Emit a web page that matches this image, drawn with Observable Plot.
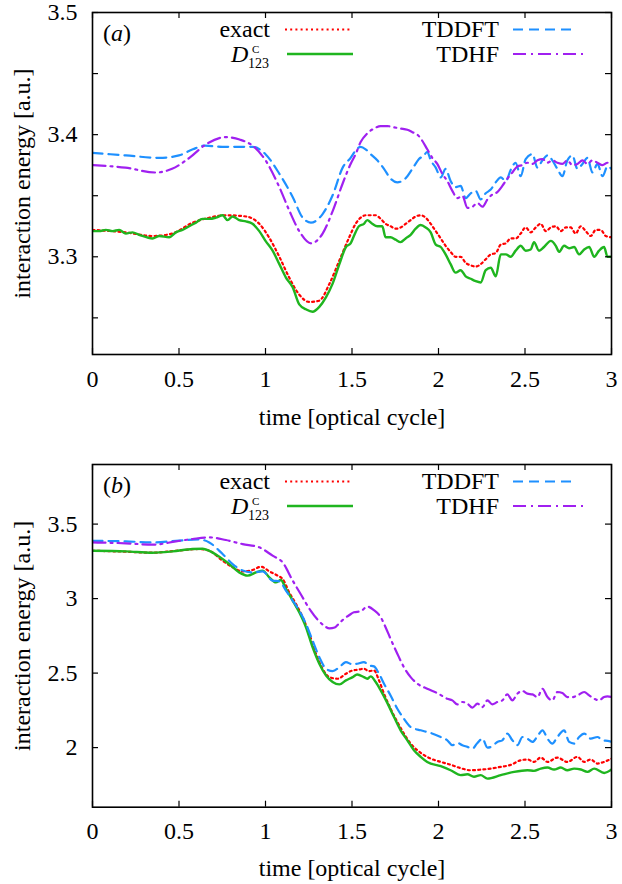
<!DOCTYPE html>
<html>
<head>
<meta charset="utf-8">
<script src="https://cdn.jsdelivr.net/npm/d3@7"></script>
<script src="https://cdn.jsdelivr.net/npm/@observablehq/plot@0.6"></script>
<style>
  body { margin: 0; background: #fff; width: 622px; }
  svg { display: block; }
</style>
</head>
<body>
<div id="chart"></div>
<script>
// ---------- shared ticks ----------
const xTicks = [0, 0.5, 1, 1.5, 2, 2.5, 3];
const aYTicks = [3.25, 3.3, 3.35, 3.4, 3.45, 3.5];
const aYLabels = [3.3, 3.4, 3.5];
const bYTicks = [2, 2.5, 3, 3.5];
const bYLabels = [2, 2.5, 3, 3.5];
const seriesNames = ["exact", "D123", "TDDFT", "TDHF"];

// ---------- panel (a) ----------
const aExactT = [0,0.19,0.35,0.46,0.58,0.675,0.77,0.887,0.964,1.02,1.08,1.137,1.195,1.253,1.31,1.37,1.427,1.484,1.521,1.55,1.579,1.608,1.637,1.666,1.694,1.723,1.752,1.781,1.81,1.839,1.868,1.897,1.926,1.955,1.984,2.013,2.041,2.07,2.099,2.128,2.157,2.186,2.215,2.244,2.273,2.302,2.331,2.36,2.389,2.417,2.446,2.475,2.504,2.533,2.562,2.591,2.62,2.649,2.678,2.707,2.736,2.764,2.793,2.822,2.851,2.88,2.909,2.938,2.967,3.0];
const aExactV = [3.322,3.320,3.317,3.319,3.328,3.332,3.334,3.333,3.327,3.316,3.300,3.283,3.269,3.263,3.264,3.278,3.297,3.316,3.327,3.332,3.334,3.334,3.334,3.331,3.327,3.325,3.323,3.324,3.327,3.330,3.333,3.334,3.332,3.327,3.321,3.315,3.309,3.304,3.300,3.300,3.295,3.293,3.292,3.294,3.298,3.302,3.303,3.310,3.311,3.315,3.315,3.319,3.324,3.320,3.324,3.327,3.321,3.324,3.325,3.321,3.324,3.324,3.319,3.325,3.321,3.317,3.322,3.322,3.317,3.316];

const aD123T = [0,0.039,0.077,0.116,0.154,0.193,0.231,0.27,0.347,0.386,0.443,0.482,0.52,0.559,0.598,0.636,0.675,0.713,0.752,0.781,0.81,0.848,0.887,0.925,0.964,1.0,1.041,1.08,1.118,1.157,1.195,1.234,1.272,1.311,1.35,1.388,1.427,1.465,1.492,1.511,1.54,1.569,1.588,1.617,1.646,1.675,1.694,1.723,1.752,1.781,1.81,1.839,1.868,1.897,1.926,1.955,1.984,2.013,2.041,2.07,2.099,2.128,2.157,2.186,2.215,2.244,2.273,2.302,2.331,2.36,2.389,2.417,2.446,2.475,2.504,2.533,2.552,2.581,2.61,2.649,2.678,2.697,2.726,2.755,2.784,2.813,2.842,2.871,2.9,2.928,2.957,2.977,3.0];
const aD123V = [3.321,3.321,3.322,3.321,3.322,3.319,3.320,3.318,3.315,3.317,3.316,3.320,3.322,3.325,3.328,3.331,3.331,3.332,3.334,3.330,3.333,3.330,3.329,3.327,3.321,3.313,3.305,3.294,3.283,3.275,3.261,3.257,3.255,3.259,3.267,3.278,3.294,3.308,3.311,3.317,3.325,3.327,3.330,3.327,3.325,3.325,3.316,3.316,3.314,3.312,3.315,3.318,3.323,3.326,3.324,3.320,3.310,3.308,3.302,3.294,3.287,3.289,3.284,3.282,3.280,3.279,3.289,3.291,3.284,3.302,3.302,3.300,3.305,3.309,3.305,3.306,3.312,3.305,3.308,3.313,3.309,3.304,3.309,3.307,3.308,3.302,3.306,3.308,3.300,3.305,3.308,3.300,3.300];

const aTddftT = [0,0.193,0.386,0.5,0.58,0.65,0.75,0.85,0.925,1.0,1.08,1.157,1.215,1.263,1.33,1.39,1.446,1.492,1.521,1.55,1.579,1.608,1.646,1.685,1.723,1.762,1.791,1.82,1.858,1.887,1.916,1.935,1.955,1.984,2.013,2.041,2.07,2.099,2.128,2.157,2.186,2.215,2.244,2.273,2.302,2.331,2.36,2.389,2.417,2.446,2.475,2.504,2.543,2.572,2.601,2.63,2.658,2.687,2.716,2.745,2.774,2.803,2.832,2.861,2.89,2.919,2.948,2.977,3.0];
const aTddftV = [3.385,3.383,3.381,3.383,3.388,3.391,3.390,3.390,3.390,3.384,3.368,3.349,3.332,3.328,3.335,3.351,3.373,3.381,3.387,3.390,3.388,3.384,3.379,3.372,3.364,3.361,3.362,3.366,3.374,3.380,3.383,3.386,3.379,3.373,3.365,3.372,3.362,3.357,3.358,3.348,3.352,3.354,3.347,3.352,3.355,3.361,3.365,3.362,3.371,3.377,3.366,3.380,3.384,3.373,3.379,3.383,3.379,3.372,3.366,3.379,3.383,3.372,3.376,3.381,3.369,3.376,3.366,3.374,3.372];

const aTdhfT = [0,0.19,0.366,0.46,0.56,0.655,0.77,0.85,0.925,1.0,1.08,1.137,1.195,1.263,1.33,1.39,1.446,1.492,1.521,1.55,1.588,1.627,1.666,1.704,1.743,1.781,1.82,1.849,1.878,1.906,1.935,1.964,1.993,2.022,2.051,2.08,2.109,2.138,2.167,2.196,2.225,2.254,2.283,2.311,2.34,2.369,2.398,2.427,2.456,2.485,2.514,2.543,2.572,2.601,2.63,2.658,2.687,2.716,2.745,2.774,2.803,2.832,2.861,2.89,2.919,2.948,2.977,3.0];
const aTdhfV = [3.375,3.373,3.369,3.372,3.381,3.392,3.398,3.396,3.391,3.379,3.357,3.338,3.321,3.311,3.319,3.338,3.360,3.376,3.384,3.394,3.401,3.405,3.407,3.407,3.406,3.405,3.404,3.402,3.400,3.395,3.388,3.381,3.376,3.368,3.362,3.354,3.348,3.350,3.340,3.341,3.344,3.341,3.347,3.351,3.353,3.358,3.364,3.369,3.374,3.375,3.377,3.376,3.379,3.380,3.377,3.379,3.377,3.376,3.379,3.375,3.376,3.379,3.376,3.379,3.377,3.375,3.377,3.375];

// ---------- panel (b) ----------
const bExactT = [0,0.193,0.347,0.482,0.617,0.675,0.752,0.81,0.868,0.925,0.974,1.022,1.07,1.099,1.137,1.176,1.215,1.253,1.292,1.33,1.369,1.417,1.465,1.504,1.53,1.569,1.598,1.627,1.656,1.685,1.723,1.762,1.8,1.839,1.897,1.955,2.013,2.07,2.128,2.186,2.244,2.302,2.36,2.417,2.475,2.514,2.552,2.591,2.63,2.687,2.745,2.803,2.842,2.88,2.919,2.957,3.0];
const bExactV = [3.321,3.315,3.308,3.321,3.333,3.321,3.254,3.210,3.183,3.192,3.214,3.183,3.154,3.132,3.042,2.964,2.875,2.763,2.629,2.529,2.473,2.462,2.496,2.518,2.522,2.529,2.513,2.518,2.451,2.362,2.261,2.172,2.094,2.027,1.965,1.926,1.904,1.885,1.862,1.848,1.852,1.859,1.871,1.884,1.915,1.920,1.904,1.933,1.904,1.933,1.904,1.938,1.904,1.920,1.893,1.904,1.926];

const bD123T = [0,0.193,0.347,0.463,0.578,0.636,0.675,0.733,0.79,0.848,0.896,0.945,0.983,1.022,1.06,1.089,1.118,1.157,1.195,1.234,1.272,1.311,1.35,1.388,1.427,1.465,1.504,1.53,1.569,1.588,1.608,1.637,1.666,1.704,1.743,1.781,1.82,1.858,1.897,1.935,2.013,2.07,2.128,2.167,2.205,2.244,2.283,2.36,2.437,2.514,2.552,2.591,2.63,2.668,2.707,2.745,2.784,2.823,2.861,2.9,2.958,3.0];
const bD123V = [3.321,3.317,3.308,3.317,3.333,3.335,3.321,3.281,3.232,3.176,3.154,3.176,3.188,3.143,3.109,3.125,3.065,2.987,2.908,2.808,2.674,2.563,2.484,2.440,2.424,2.451,2.473,2.491,2.473,2.462,2.478,2.440,2.384,2.300,2.205,2.116,2.049,1.982,1.938,1.904,1.875,1.848,1.815,1.821,1.804,1.815,1.792,1.815,1.837,1.848,1.844,1.859,1.866,1.853,1.866,1.848,1.859,1.853,1.837,1.859,1.830,1.853];

const bTddftT = [0,0.193,0.347,0.482,0.617,0.675,0.752,0.81,0.868,0.925,0.983,1.041,1.08,1.118,1.157,1.195,1.234,1.272,1.311,1.35,1.388,1.427,1.465,1.5,1.53,1.569,1.598,1.627,1.656,1.685,1.723,1.762,1.8,1.839,1.897,1.955,2.013,2.051,2.08,2.109,2.138,2.167,2.196,2.225,2.254,2.283,2.311,2.34,2.369,2.398,2.427,2.456,2.485,2.514,2.543,2.572,2.601,2.63,2.658,2.687,2.726,2.755,2.784,2.813,2.842,2.88,2.919,2.948,2.977,3.0];
const bTddftV = [3.388,3.384,3.377,3.388,3.397,3.377,3.299,3.232,3.188,3.176,3.183,3.121,3.116,3.054,2.987,2.920,2.830,2.719,2.607,2.529,2.513,2.540,2.574,2.560,2.563,2.574,2.551,2.545,2.496,2.429,2.350,2.261,2.194,2.138,2.116,2.098,2.071,2.049,2.016,2.031,2.016,2.005,1.993,2.031,2.060,2.000,2.009,2.038,2.049,2.094,2.049,2.016,2.071,2.060,2.038,2.076,2.116,2.060,2.027,2.071,2.116,2.038,2.027,2.071,2.094,2.060,2.071,2.049,2.045,2.040];

const bTdhfT = [0,0.193,0.347,0.482,0.578,0.675,0.771,0.868,0.964,1.041,1.099,1.157,1.203,1.261,1.3,1.338,1.37,1.40,1.427,1.454,1.485,1.511,1.55,1.589,1.627,1.666,1.694,1.723,1.762,1.8,1.839,1.878,1.935,1.993,2.051,2.08,2.109,2.138,2.167,2.196,2.225,2.254,2.283,2.311,2.34,2.369,2.398,2.427,2.456,2.485,2.514,2.543,2.572,2.601,2.63,2.658,2.687,2.716,2.745,2.774,2.803,2.842,2.871,2.9,2.928,2.957,2.977,3.0];
const bTdhfV = [3.377,3.371,3.362,3.384,3.400,3.411,3.393,3.366,3.344,3.288,3.243,3.121,3.031,2.919,2.86,2.819,2.800,2.806,2.835,2.864,2.890,2.908,2.915,2.946,2.922,2.875,2.808,2.730,2.630,2.540,2.473,2.429,2.395,2.366,2.328,2.317,2.290,2.306,2.295,2.268,2.295,2.272,2.317,2.290,2.306,2.317,2.357,2.317,2.362,2.380,2.362,2.357,2.339,2.395,2.339,2.317,2.373,2.366,2.339,2.339,2.350,2.373,2.350,2.328,2.317,2.339,2.344,2.340];

// ---------- styles ----------
const FONT = "Liberation Serif, DejaVu Serif, serif";
const W = 622, H = 442, ML = 92, MR = 11;
const styles = {
  exact: {stroke: "#ff0000", strokeWidth: 2.2, strokeDasharray: "2,3.2"},
  D123:  {stroke: "#1fb51f", strokeWidth: 2.4, strokeDasharray: null},
  TDDFT: {stroke: "#1e90ff", strokeWidth: 2.2, strokeDasharray: "10,6"},
  TDHF:  {stroke: "#a020f0", strokeWidth: 2.2, strokeDasharray: "13,5,2,5"}
};

function pairs(t, v) {
  const n = Math.min(t.length, v.length);
  return d3.range(n).map(i => ({t: t[i], v: v[i]}));
}
const fmt = d => `${d}`;

function makePanel(cfg) {
  const innerW = W - ML - MR;
  const innerH = H - cfg.mt - cfg.mb;
  const marks = [];
  const data = {
    exact: pairs(cfg.exactT, cfg.exactV),
    D123: pairs(cfg.d123T, cfg.d123V),
    TDDFT: pairs(cfg.tddftT, cfg.tddftV),
    TDHF: pairs(cfg.tdhfT, cfg.tdhfV)
  };
  for (const name of seriesNames) {
    const s = styles[name];
    const opts = {x: "t", y: "v", stroke: s.stroke, strokeWidth: s.strokeWidth, curve: "monotone-x", clip: true, strokeLinejoin: "round"};
    if (s.strokeDasharray) opts.strokeDasharray = s.strokeDasharray;
    marks.push(Plot.line(data[name], opts));
  }
  const tk = {stroke: "black", strokeWidth: 1.2};
  marks.push(
    Plot.tickX(xTicks, {x: d => d, insetTop: innerH - 6, ...tk}),
    Plot.tickX(xTicks, {x: d => d, insetBottom: innerH - 6, ...tk}),
    Plot.tickY(cfg.yTicks, {y: d => d, insetRight: innerW - 6, ...tk}),
    Plot.tickY(cfg.yTicks, {y: d => d, insetLeft: innerW - 6, ...tk}),
    Plot.frame({stroke: "black", strokeWidth: 1.6}),
    Plot.axisX({ticks: xTicks, tickSize: 0, tickPadding: 15, tickFormat: fmt, label: null}),
    Plot.axisY({ticks: cfg.yLabels, tickSize: 0, tickPadding: 15, tickFormat: fmt, label: null}),
    Plot.text(["time [optical cycle]"], {text: d => d, frameAnchor: "bottom", dy: cfg.xLabelDy, textAnchor: "middle", lineAnchor: "middle"}),
    Plot.text(["interaction energy [a.u.]"], {text: d => d, frameAnchor: "left", dx: -70, rotate: -90, textAnchor: "middle", lineAnchor: "middle"})
  );
  const svg = Plot.plot({
    width: W, height: H,
    marginTop: cfg.mt, marginBottom: cfg.mb, marginLeft: ML, marginRight: MR,
    x: {domain: [0, 3], label: null},
    y: {domain: cfg.yDomain, label: null},
    style: {fontFamily: FONT, fontSize: "24px", color: "black", background: "white", overflow: "visible"},
    marks
  });

  // legend and panel label (explicit start anchor: Plot's root sets text-anchor=middle)
  const g = d3.select(svg).append("g")
    .attr("font-family", FONT).attr("font-size", 24).attr("fill", "black").attr("text-anchor", "start");
  const top = cfg.mt;
  const pl = g.append("text").attr("x", 103).attr("y", top + 29);
  pl.append("tspan").text("(");
  pl.append("tspan").attr("font-style", "italic").text(cfg.tag);
  pl.append("tspan").text(")");

  g.append("text").attr("x", 270).attr("y", top + 25).attr("text-anchor", "end").text("exact");
  g.append("text").attr("x", 499).attr("y", top + 25).attr("text-anchor", "end").text("TDDFT");
  g.append("text").attr("x", 499).attr("y", top + 50).attr("text-anchor", "end").text("TDHF");
  g.append("text").attr("x", 231).attr("y", top + 50).attr("font-style", "italic").text("D");
  g.append("text").attr("x", 252).attr("y", top + 40.5).attr("font-size", 11).text("C");
  g.append("text").attr("x", 248).attr("y", top + 56).attr("font-size", 14).text("123");

  const samples = [
    {name: "exact", x1: 285, x2: 351, y: top + 17.5},
    {name: "D123", x1: 287, x2: 353, y: top + 42},
    {name: "TDDFT", x1: 513, x2: 576, y: top + 17.5},
    {name: "TDHF", x1: 513, x2: 583, y: top + 42}
  ];
  for (const s of samples) {
    const st = styles[s.name];
    const ln = g.append("line").attr("x1", s.x1).attr("x2", s.x2).attr("y1", s.y).attr("y2", s.y)
      .attr("stroke", st.stroke).attr("stroke-width", st.strokeWidth);
    if (st.strokeDasharray) ln.attr("stroke-dasharray", st.strokeDasharray);
  }
  return svg;
}

const chart = document.getElementById("chart");
chart.append(makePanel({
  tag: "a", mt: 12, mb: 88, yDomain: [3.22, 3.5], yTicks: aYTicks, yLabels: aYLabels, xLabelDy: 63,
  exactT: aExactT, exactV: aExactV, d123T: aD123T, d123V: aD123V,
  tddftT: aTddftT, tddftV: aTddftV, tdhfT: aTdhfT, tdhfV: aTdhfV
}));
chart.append(makePanel({
  tag: "b", mt: 22, mb: 77.3, yDomain: [1.6, 3.9], yTicks: bYTicks, yLabels: bYLabels, xLabelDy: 61,
  exactT: bExactT, exactV: bExactV, d123T: bD123T, d123V: bD123V,
  tddftT: bTddftT, tddftV: bTddftV, tdhfT: bTdhfT, tdhfV: bTdhfV
}));
</script>
</body>
</html>
